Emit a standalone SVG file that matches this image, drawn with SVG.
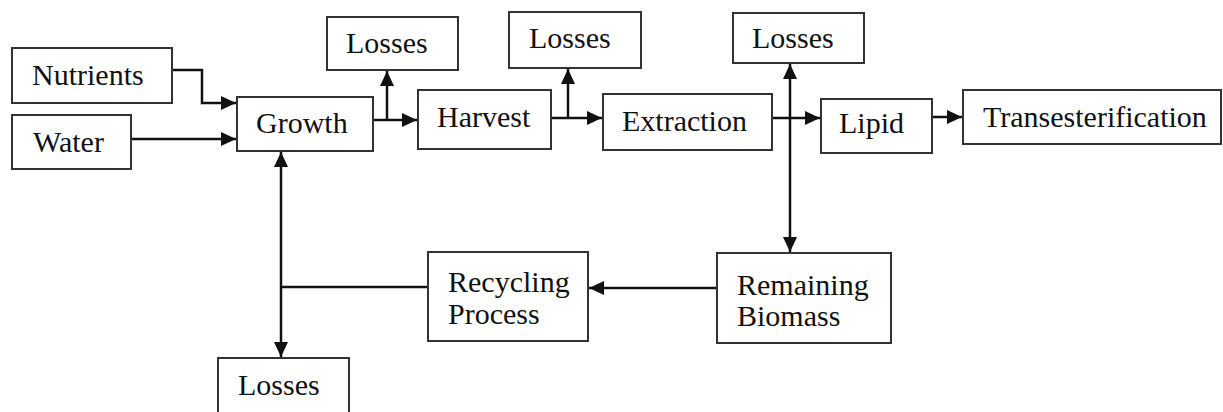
<svg xmlns="http://www.w3.org/2000/svg" width="1223" height="412" viewBox="0 0 1223 412">
<style>
.box{fill:#fff;stroke:#333;stroke-width:2}
.t{font-family:"Liberation Serif","Times New Roman",serif;font-size:30px;fill:#111}
.c{fill:none;stroke:#111;stroke-width:2.5}
</style>
<defs>
<marker id="ah" markerUnits="userSpaceOnUse" markerWidth="16" markerHeight="14" refX="15" refY="7" orient="auto-start-reverse" viewBox="0 0 16 14">
<path d="M0,0 L15,7 L0,14 Z" fill="#111"/>
</marker>
</defs>
<rect width="1223" height="412" fill="#fff"/>
<g id="connectors">
<path class="c" d="M172,70 H202 V103 H236" marker-end="url(#ah)"/>
<path class="c" d="M131,139 H236" marker-end="url(#ah)"/>
<path class="c" d="M373,120 H417" marker-end="url(#ah)"/>
<path class="c" d="M387,120 V71" marker-end="url(#ah)"/>
<path class="c" d="M551,118 H602" marker-end="url(#ah)"/>
<path class="c" d="M568,118 V69" marker-end="url(#ah)"/>
<path class="c" d="M772,118 H820" marker-end="url(#ah)"/>
<path class="c" d="M790,64 V252" marker-start="url(#ah)" marker-end="url(#ah)"/>
<path class="c" d="M932,117 H962" marker-end="url(#ah)"/>
<path class="c" d="M717,288 H589" marker-end="url(#ah)"/>
<path class="c" d="M428,287 H281"/>
<path class="c" d="M281,152 V357" marker-start="url(#ah)" marker-end="url(#ah)"/>
</g>
<g id="nutrients"><rect class="box" x="12" y="48" width="160" height="55"/><text class="t" x="32" y="85">Nutrients</text></g>
<g id="water"><rect class="box" x="12" y="115" width="119" height="54"/><text class="t" x="33" y="152">Water</text></g>
<g id="growth"><rect class="box" x="237" y="97" width="136" height="54"/><text class="t" x="256" y="133">Growth</text></g>
<g id="losses1"><rect class="box" x="327" y="17" width="131" height="53"/><text class="t" x="346" y="53">Losses</text></g>
<g id="harvest"><rect class="box" x="418" y="90" width="133" height="59"/><text class="t" x="437" y="127">Harvest</text></g>
<g id="losses2"><rect class="box" x="509" y="12" width="132" height="56"/><text class="t" x="529" y="48">Losses</text></g>
<g id="extraction"><rect class="box" x="603" y="94" width="169" height="56"/><text class="t" x="622" y="131">Extraction</text></g>
<g id="losses3"><rect class="box" x="733" y="13" width="131" height="50"/><text class="t" x="752" y="48">Losses</text></g>
<g id="lipid"><rect class="box" x="821" y="99" width="111" height="54"/><text class="t" x="839" y="133">Lipid</text></g>
<g id="transesterification"><rect class="box" x="963" y="90" width="258" height="54"/><text class="t" x="983" y="127">Transesterification</text></g>
<g id="remaining-biomass"><rect class="box" x="717" y="253" width="174" height="90"/><text class="t" x="737" y="295">Remaining</text><text class="t" x="737" y="326">Biomass</text></g>
<g id="recycling-process"><rect class="box" x="428" y="252" width="160" height="89"/><text class="t" x="448" y="292">Recycling</text><text class="t" x="448" y="324">Process</text></g>
<g id="losses4"><rect class="box" x="218" y="358" width="131" height="60"/><text class="t" x="238" y="395">Losses</text></g>
</svg>
